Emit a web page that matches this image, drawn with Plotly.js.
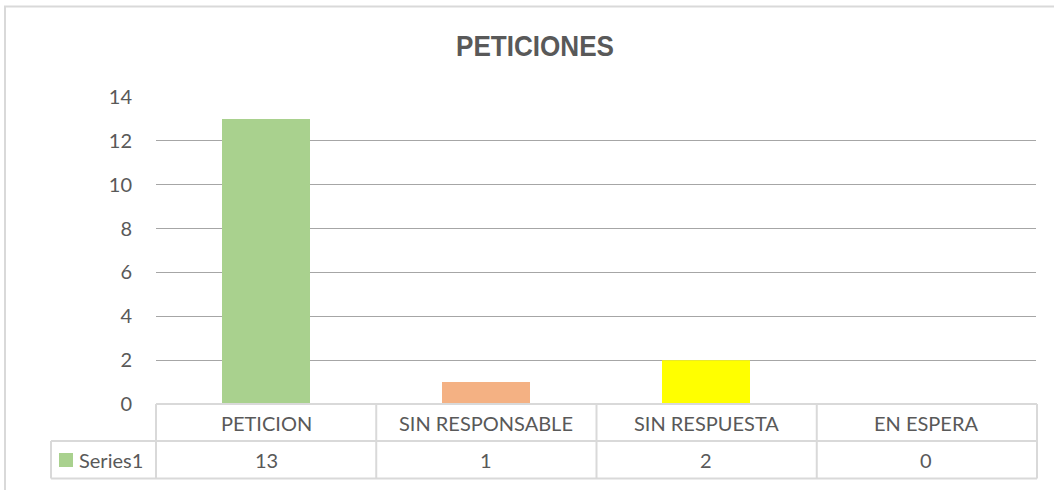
<!DOCTYPE html>
<html><head><meta charset="utf-8">
<script src="https://cdn.plot.ly/plotly-3.0.1.min.js"></script>
<style>html,body{margin:0;padding:0;background:#fff}#c{width:1054px;height:490px}
.gtitle{transform-box:fill-box;transform-origin:center;transform:scaleX(0.87)}</style>
</head><body><div id="c"></div>
<script>
const categories = ["PETICION", "SIN RESPONSABLE", "SIN RESPUESTA", "EN ESPERA"];
const values = [13, 1, 2, 0];
const barColors = ["#a9d18e", "#f4b183", "#ffff00", "#a9d18e"];
const seriesName = "Series1";
const chartTitle = "PETICIONES";

(function () {
const W = 1054, H = 490, L = 156, R = 18, T = 97, B = 86;
const pw = W - L - R, ph = H - T - B;
const px = x => (x - L) / pw;
const py = y => (H - B - y) / ph;

const font = "Lato, 'Open Sans', sans-serif";
const txt = "#595959";
const tableLine = "#d9d9d9";

const shapes = [];
function line(x0, y0, x1, y1, c, w) {
  shapes.push({type: "line", xref: "paper", yref: "paper", x0: px(x0), y0: py(y0), x1: px(x1), y1: py(y1), line: {color: c, width: w}});
}
shapes.push({type: "rect", xref: "paper", yref: "paper", x0: px(5), y0: py(6.5), x1: px(1064), y1: py(500), line: {color: tableLine, width: 2}, fillcolor: "rgba(0,0,0,0)"});
const rTop = 404, rMid = 441, rBot = 478.5;
line(156, rTop, 1037, rTop, tableLine, 2);
line(51, rMid, 1037, rMid, tableLine, 2);
line(51, rBot, 1037, rBot, tableLine, 2);
line(51, rMid, 51, rBot, tableLine, 2);
for (let i = 0; i <= categories.length; i++) {
  const xx = 156 + i * 220.25;
  line(xx, rTop, xx, rBot, tableLine, 2);
}
shapes.push({type: "rect", xref: "paper", yref: "paper", x0: px(59), y0: py(467), x1: px(73), y1: py(453), line: {width: 0}, fillcolor: barColors[0]});

const annotations = [];
categories.forEach((c, i) => {
  annotations.push({x: c, xref: "x", y: py(422.5), yref: "paper", text: c, showarrow: false, font: {family: font, size: 20, color: txt}, xanchor: "center", yanchor: "middle"});
  annotations.push({x: c, xref: "x", y: py(460), yref: "paper", text: String(values[i]), showarrow: false, font: {family: font, size: 20, color: txt}, xanchor: "center", yanchor: "middle"});
});
annotations.push({x: px(77), xref: "paper", y: py(460), yref: "paper", text: seriesName, showarrow: false, font: {family: font, size: 20, color: txt}, xanchor: "left", yanchor: "middle"});

Plotly.newPlot("c", [{
  type: "bar", x: categories, y: values, width: 0.4,
  marker: {color: barColors.slice(0, categories.length), line: {width: 0}},
  hoverinfo: "x+y"
}], {
  width: W, height: H,
  margin: {l: L, r: R, t: T, b: B, pad: 0},
  paper_bgcolor: "#fff", plot_bgcolor: "#fff",
  showlegend: false,
  title: {text: "<b>" + chartTitle + "</b>", x: 535 / W, xanchor: "center", y: 1 - 45.5 / H, yanchor: "middle",
          font: {family: "'Liberation Sans', Arial, sans-serif", size: 30, color: txt}},
  xaxis: {showticklabels: false, showgrid: false, zeroline: false, showline: false, ticks: "", fixedrange: true},
  yaxis: {range: [0, 14], dtick: 2, tick0: 0, showgrid: true, gridcolor: "#a6a6a6", gridwidth: 1,
          zeroline: false, showline: false, ticks: "", ticklabelstandoff: 23,
          tickfont: {family: font, size: 20, color: txt}, fixedrange: true},
  shapes: shapes, annotations: annotations
}, {displayModeBar: false, staticPlot: true});
})();
</script></body></html>
